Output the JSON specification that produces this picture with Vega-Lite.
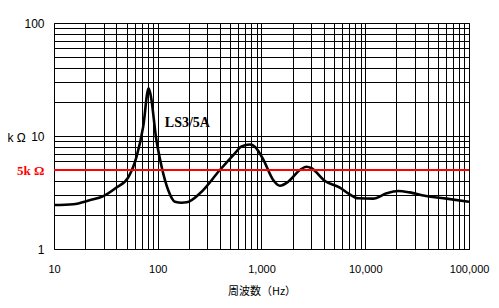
{
  "$schema": "https://vega.github.io/schema/vega-lite/v6.json",
  "width": 415,
  "height": 226,
  "autosize": {"type": "none"},
  "padding": {"left": 54, "top": 23, "right": 30, "bottom": 59},
  "background": "white",
  "config": {
    "view": {"stroke": "black", "strokeWidth": 1},
    "axis": {"gridColor": "black", "gridOpacity": 1, "gridWidth": 1, "ticks": false, "domain": false, "labelFont": "Liberation Sans", "labelFontSize": 11, "labelColor": "black", "titleFont": "Noto Sans CJK JP", "titleFontSize": 11, "titleFontWeight": "normal", "titleColor": "black"}
  },
  "datasets": {
    "curve": [
      {"f": 10, "z": 2.45}, {"f": 15.3, "z": 2.49}, {"f": 22, "z": 2.7}, {"f": 29.9, "z": 2.94},
      {"f": 40, "z": 3.5}, {"f": 52, "z": 4.31}, {"f": 62.5, "z": 6.56}, {"f": 72.4, "z": 12.1},
      {"f": 81.6, "z": 26.4}, {"f": 86, "z": 22.3}, {"f": 96, "z": 9.86}, {"f": 109, "z": 5.35},
      {"f": 126, "z": 3.33}, {"f": 146.5, "z": 2.62}, {"f": 170, "z": 2.57}, {"f": 190, "z": 2.59},
      {"f": 255, "z": 3.11}, {"f": 397, "z": 5.0}, {"f": 554, "z": 7.03}, {"f": 643, "z": 8.1},
      {"f": 773, "z": 8.4}, {"f": 863, "z": 8.05}, {"f": 1038, "z": 6.22}, {"f": 1296, "z": 4.08},
      {"f": 1504, "z": 3.63}, {"f": 1808, "z": 3.94}, {"f": 2344, "z": 5.0}, {"f": 2718, "z": 5.35},
      {"f": 3039, "z": 5.18}, {"f": 4087, "z": 4.0}, {"f": 5693, "z": 3.49}, {"f": 6845, "z": 3.11},
      {"f": 8551, "z": 2.81}, {"f": 11920, "z": 2.79}, {"f": 16030, "z": 3.11}, {"f": 20750, "z": 3.26},
      {"f": 26900, "z": 3.17}, {"f": 37500, "z": 2.96}, {"f": 60700, "z": 2.79}, {"f": 100000, "z": 2.62}
    ],
    "ref": [{"z": 5}],
    "label": [{"f": 117, "z": 13, "t": "LS3/5A"}]
  },
  "layer": [
    {
      "data": {"name": "curve"},
      "mark": {"type": "line", "color": "black", "strokeWidth": 2.6, "interpolate": "monotone"},
      "encoding": {
        "x": {
          "field": "f", "type": "quantitative",
          "scale": {"type": "log", "domain": [10, 100000], "nice": false},
          "axis": {
            "title": "周波数（Hz）", "titlePadding": 11,
            "values": [10,20,30,40,50,60,70,80,90,100,200,300,400,500,600,700,800,900,1000,2000,3000,4000,5000,6000,7000,8000,9000,10000,20000,30000,40000,50000,60000,70000,80000,90000,100000],
            "labelExpr": "indexof([10,100,1000,10000,100000], datum.value) >= 0 ? format(datum.value, ',') : ''",
            "labelPadding": 14, "labelFlush": false, "labelOverlap": false
          }
        },
        "y": {
          "field": "z", "type": "quantitative",
          "scale": {"type": "log", "domain": [1, 100], "nice": false},
          "axis": {
            "title": "k Ω", "titleAngle": 0, "titleX": -47, "titleY": 114, "titleAlign": "left", "titleBaseline": "middle",
            "titleFont": "Liberation Sans", "titleFontSize": 12,
            "values": [1,2,3,4,5,6,7,8,9,10,20,30,40,50,60,70,80,90,100],
            "labelExpr": "datum.value == 5 ? '5k Ω' : (indexof([1,10,100], datum.value) >= 0 ? datum.label : '')",
            "labelColor": {"condition": {"test": "datum.value == 5", "value": "#ff0000"}, "value": "black"},
            "labelFont": {"condition": {"test": "datum.value == 5", "value": "Liberation Serif"}, "value": "Liberation Sans"},
            "labelFontWeight": {"condition": {"test": "datum.value == 5", "value": "bold"}, "value": "normal"},
            "labelFontSize": {"condition": {"test": "datum.value == 5", "value": 13}, "value": 12},
            "labelPadding": 10, "labelOverlap": false, "labelFlush": false
          }
        }
      }
    },
    {
      "data": {"name": "ref"},
      "mark": {"type": "rule", "color": "#ff0000", "strokeWidth": 2},
      "encoding": {"y": {"field": "z", "type": "quantitative"}}
    },
    {
      "data": {"name": "label"},
      "mark": {"type": "text", "font": "Liberation Serif", "fontWeight": "bold", "fontSize": 14, "align": "left", "baseline": "middle", "color": "black"},
      "encoding": {
        "x": {"field": "f", "type": "quantitative"},
        "y": {"field": "z", "type": "quantitative"},
        "text": {"field": "t"}
      }
    }
  ]
}
